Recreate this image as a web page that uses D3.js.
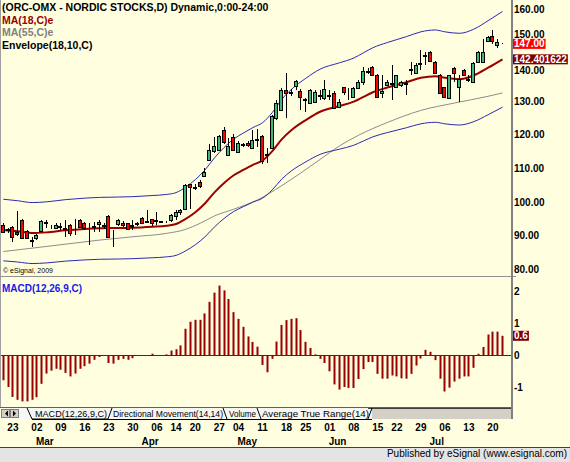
<!DOCTYPE html>
<html>
<head>
<meta charset="utf-8">
<script src="https://cdn.jsdelivr.net/npm/d3@7"></script>
<style>
  body { margin: 0; background: #ffffe0; }
  svg { display: block; font-family: Arial, "Liberation Sans", sans-serif; }
</style>
</head>
<body>
<div id="chart"></div>
<script>
const W = 570, H = 462;

// trading calendar (Stockholm 2009)
const firstDay = new Date(2009, 1, 19), lastDay = new Date(2009, 6, 22);
const holidays = ["2009-04-10", "2009-04-13", "2009-05-01", "2009-05-21", "2009-06-19"];

// daily candles
const opens = [93.1,91.8,92.6,91.0,94.6,91.4,88.4,89.3,91.4,94.1, 92.9,92.3,92.7,92.0,93.1,92.6,94.6,93.8,92.4,92.6,
  93.5,93.0,95.8,91.4,93.3,93.8,93.6,92.8,93.4,95.3, 94.0,94.8,94.3,94.2,94.0,94.6,95.8,96.9,98.0,105.2,
  104.2,105.8,107.8,112.3,115.0,115.5,121.4,114.0,119.4,114.9, 116.8,117.6,116.0,118.3,119.6,113.9,115.9,124.9,127.4,133.3,
  132.4,134.5,133.1,130.2,129.3,129.8,131.6,130.9,131.6,132.5, 128.1,134.1,132.3,131.3,134.0,135.8,138.7,140.2,137.7,132.5,
  134.8,135.0,134.3,134.8,135.0,139.2,138.3,141.0,143.5,144.7, 141.7,137.7,134.1,130.8,139.7,134.3,139.2,136.5,135.7,141.7,
  141.7,148.0,149.4,146.7,147.1];
const highs = [93.8,92.3,92.8,97.4,94.8,91.6,89.6,90.3,94.6,94.6, 93.2,93.6,93.8,94.6,93.3,94.8,94.8,94.0,93.8,94.1,
  94.6,93.6,96.0,91.6,94.8,94.2,93.8,94.6,94.0,95.5, 97.7,95.0,97.0,94.4,94.3,96.3,97.6,97.8,105.3,105.4,
  105.2,106.4,110.0,117.3,119.2,119.8,122.2,119.0,120.2,118.0, 117.6,118.0,121.4,121.6,120.0,115.9,125.8,130.3,134.0,138.4,
  133.5,136.2,133.5,131.0,133.7,133.2,133.3,136.2,133.3,133.0, 130.5,134.3,133.8,134.3,136.2,140.2,139.7,140.4,137.9,137.7,
  136.2,140.7,137.8,136.0,136.3,141.7,141.2,145.2,144.7,145.0, 141.9,137.9,134.3,137.8,140.2,137.7,139.6,137.7,141.5,145.0,
  148.4,149.3,151.1,148.4,147.3];
const lows = [90.6,90.8,88.1,89.8,89.0,88.9,86.6,88.5,90.9,92.2, 92.0,91.8,91.5,89.6,89.7,90.1,92.2,91.5,87.1,91.1,
  91.1,92.0,89.2,86.4,92.8,92.4,91.5,91.6,92.8,93.3, 93.8,92.8,93.1,93.9,93.8,94.1,94.7,96.0,97.6,97.8,
  103.5,104.2,107.3,112.0,114.6,115.2,117.2,113.5,115.0,114.5, 116.2,116.3,115.6,116.2,111.2,111.4,115.6,124.3,127.0,124.8,
  131.4,133.3,127.3,126.8,129.1,129.3,130.3,130.3,130.3,127.8, 127.8,131.8,130.3,130.8,133.5,134.8,138.0,137.5,131.0,130.8,
  134.5,130.3,134.0,134.3,131.8,137.7,138.0,139.2,140.7,141.6, 138.0,132.0,131.0,130.6,135.7,129.8,137.5,135.8,135.5,141.2,
  141.5,147.6,147.1,145.7,147.0];
const closes = [91.1,91.6,89.6,90.4,89.1,89.1,88.7,90.0,94.4,93.8, 92.7,93.1,92.5,92.3,90.6,92.4,92.6,92.1,92.6,92.8,
  94.0,92.7,89.6,91.2,94.6,93.1,91.8,93.2,93.6,93.6, 94.4,93.8,94.6,94.1,94.1,96.0,96.9,97.5,105.0,104.3,
  104.5,104.6,108.8,115.3,116.7,119.5,117.9,116.7,115.4,117.4, 117.2,116.8,118.4,118.6,112.0,114.2,125.5,129.5,133.4,132.5,
  132.8,135.9,131.3,130.6,133.2,132.8,131.9,133.6,131.8,128.0, 129.8,132.8,132.5,133.8,135.8,138.8,138.9,137.7,131.3,133.0,
  135.8,135.5,137.7,135.7,135.3,139.5,140.7,141.4,143.7,141.8, 138.2,132.3,131.3,137.7,138.2,136.4,137.7,136.2,141.2,144.7,
  144.7,149.0,148.0,147.6,147.0];

// moving averages, [bar, value]
const ma18 = [[0,91.6],[3,91.2],[6,90.7],[9,90.9],[13,91.5],[17,91.9],[20,92.1],[24,92.2],[27,92.3],[31,92.6],
  [34,92.9],[36,93.4],[38,94.9],[40,96.9],[42,99.5],[44,102.8],[46,105.6],[48,107.9],[50,109.5],[52,111.0],
  [54,112.3],[56,115.0],[58,118.6],[60,121.3],[63,124.3],[66,126.8],[70,128.5],[73,129.8],[75,131.2],[77,132.6],
  [80,134.0],[84,135.6],[87,136.9],[90,137.4],[92,136.9],[95,136.5],[98,137.6],[101,139.9],[104,142.401622]];
const ma55 = [[0,85.2],[6,86.2],[13,87.4],[20,88.6],[27,89.6],[34,90.6],[38,91.8],[41,93.6],[44,95.8],[48,97.8],
  [53,100.6],[58,104.8],[62,108.6],[66,112.6],[70,116.6],[74,119.8],[80,123.6],[87,127.2],[94,129.4],[101,131.4],[104,132.4]];
const envPct = 10;

// MACD(12,26,9) histogram
const macdHist = [-0.79,-1.0,-1.31,-1.40,-1.45,-1.45,-1.40,-1.32,-0.90,-0.58,-0.49,-0.43,-0.46,-0.56,-0.67,-0.58,-0.43,-0.35,
  -0.27,-0.15,-0.06,-0.01,-0.25,-0.27,-0.15,-0.12,-0.15,-0.10,-0.02,-0.02,0.0,0.04,0,0,0.02,0.14,0.18,0.30,0.82,1.04,1.10,
  1.10,1.30,1.66,1.95,2.17,2.02,1.75,1.34,1.13,0.88,0.58,0.41,0.26,-0.31,-0.54,-0.12,0.42,0.94,1.09,1.13,1.15,0.78,0.41,
  0.22,0.02,-0.12,-0.25,-0.51,-0.92,-1.08,-1.0,-1.03,-1.03,-0.75,-0.44,-0.22,-0.22,-0.59,-0.74,-0.74,-0.64,-0.67,-0.73,
  -0.74,-0.59,-0.33,-0.11,0.16,0.10,-0.16,-0.74,-1.14,-1.02,-0.83,-0.74,-0.67,-0.67,-0.40,0.04,0.25,0.64,0.73,0.73,0.60];

const priceTicks = [80, 90, 100, 110, 120, 130, 140, 150, 160];
const macdTicks = [-1, 0, 1, 2];
const legendRows = [
  {text: "(ORC-OMX - NORDIC STOCKS,D) Dynamic,0:00-24:00", color: "#000"},
  {text: "MA(18,C)e", color: "#990000"},
  {text: "MA(55,C)e", color: "#808080"},
  {text: "Envelope(18,10,C)", color: "#000"}
];
const tabs = ["MACD(12,26,9,C)", "Directional Movement(14,14)", "Volume", "Average True Range(14)"];

const fmtDay = d3.timeFormat("%Y-%m-%d");
const dates = d3.timeDay.range(firstDay, d3.timeDay.offset(lastDay, 1))
  .filter(d => d.getDay() % 6 !== 0 && !holidays.includes(fmtDay(d)));

const svg = d3.select("#chart").append("svg").attr("width", W).attr("height", H);
svg.append("rect").attr("width", W).attr("height", H).attr("fill", "#ffffe0");

const x = d3.scaleBand().domain(d3.range(dates.length)).range([0.9, 504.9]);
const cx = i => x(i) + x.bandwidth() / 2;
const y = d3.scaleLinear().domain([80, 160]).range([269, 0.2]);
const ym = d3.scaleLinear().domain([0, 1]).range([355, 323]);

svg.append("clipPath").attr("id", "clipPrice").append("rect").attr("x", 1).attr("y", 0).attr("width", 510).attr("height", 276);
svg.append("clipPath").attr("id", "clipMacd").append("rect").attr("x", 1).attr("y", 277).attr("width", 510).attr("height", 130);

// ---- price panel
let gPrice = svg.append("g").attr("clip-path", "url(#clipPrice)");

let line = d3.line().x(d => cx(d[0])).y(d => y(d[1])).curve(d3.curveMonotoneX);
let upper = ma18.map(d => [d[0], d[1] * (1 + envPct / 100)]);
let lower = ma18.map(d => [d[0], d[1] * (1 - envPct / 100)]);

gPrice.append("path").datum(ma55).attr("d", line).attr("fill", "none").attr("stroke", "#8c8c8c").attr("stroke-width", 1);
gPrice.append("path").datum(upper).attr("d", line).attr("fill", "none").attr("stroke", "#2a2ab4").attr("stroke-width", 1);
gPrice.append("path").datum(lower).attr("d", line).attr("fill", "none").attr("stroke", "#2a2ab4").attr("stroke-width", 1);
gPrice.append("path").datum(ma18).attr("d", line).attr("fill", "none").attr("stroke", "#990000").attr("stroke-width", 2);

let bars = d3.range(dates.length).map(i => ({i: i, o: opens[i], h: highs[i], l: lows[i], c: closes[i]}));
let candle = gPrice.selectAll("g.candle").data(bars).join("g").attr("class", "candle");
candle.append("line")
  .attr("x1", d => Math.floor(cx(d.i)) + 0.5).attr("x2", d => Math.floor(cx(d.i)) + 0.5)
  .attr("y1", d => Math.round(y(d.h))).attr("y2", d => Math.round(y(d.l)))
  .attr("stroke", "#000").attr("stroke-width", 1);
candle.append("rect")
  .attr("x", d => Math.floor(cx(d.i)) - 1.5)
  .attr("width", 3)
  .attr("y", d => Math.round(y(Math.max(d.o, d.c))) + 0.5)
  .attr("height", d => Math.max(0, Math.round(y(Math.min(d.o, d.c))) - Math.round(y(Math.max(d.o, d.c)))))
  .attr("fill", d => d.c >= d.o ? "#3cb878" : "#ff0000")
  .attr("stroke", "#000").attr("stroke-width", 1);

// legend
svg.append("g").selectAll("text").data(legendRows).join("text")
  .attr("x", 2).attr("y", (d, i) => 11 + i * 12.5)
  .attr("font-size", "10.5px").attr("font-weight", "bold")
  .attr("fill", d => d.color).text(d => d.text);

svg.append("text").attr("x", 3).attr("y", 273).attr("font-size", "7px").attr("fill", "#000")
  .text("\u00a9 eSignal, 2009");

// ---- macd panel
let gMacd = svg.append("g").attr("clip-path", "url(#clipMacd)");
gMacd.append("line").attr("x1", 0).attr("x2", 512).attr("y1", Math.round(ym(0)) + 0.5).attr("y2", Math.round(ym(0)) + 0.5)
  .attr("stroke", "#303030");
gMacd.selectAll("rect.hist").data(macdHist).join("rect").attr("class", "hist")
  .attr("x", (d, i) => Math.floor(cx(i)) - 0.5)
  .attr("width", 2)
  .attr("y", d => Math.min(ym(d), ym(0)))
  .attr("height", d => Math.abs(ym(d) - ym(0)))
  .attr("fill", "#990000");

svg.append("text").attr("x", 2).attr("y", 292).attr("font-size", "10px").attr("font-weight", "bold")
  .attr("fill", "#1818e8").text("MACD(12,26,9,C)");

// panel frame
svg.append("line").attr("x1", 0.5).attr("x2", 0.5).attr("y1", 0).attr("y2", 408).attr("stroke", "#a0a0a0");
svg.append("line").attr("x1", 0).attr("x2", 516).attr("y1", 276.5).attr("y2", 276.5).attr("stroke", "#909090");
svg.append("line").attr("x1", 0).attr("x2", 513).attr("y1", 407.5).attr("y2", 407.5).attr("stroke", "#606060");
svg.append("line").attr("x1", 512).attr("x2", 512).attr("y1", 0).attr("y2", 419).attr("stroke", "#808080").attr("stroke-width", 2);

// ---- right axes
let yAxis = svg.append("g").attr("transform", "translate(512,0)")
  .call(d3.axisRight(y).tickValues(priceTicks).tickFormat(d3.format(".2f")).tickSize(0).tickPadding(2));
yAxis.select(".domain").remove();
yAxis.selectAll("text").attr("font-size", "10px").attr("font-weight", "bold").attr("fill", "#000")
  .attr("font-family", "Arial, 'Liberation Sans', sans-serif");
yAxis.selectAll(".tick").filter(d => d === 160).select("text").attr("dy", "12px");
// 140 sits under the MA box; nudge it just below
yAxis.selectAll(".tick").filter(d => d === 140).select("text").attr("dy", "6.5px");

let mAxis = svg.append("g").attr("transform", "translate(512,0)")
  .call(d3.axisRight(ym).tickValues(macdTicks).tickFormat(d => String(d)).tickSize(0).tickPadding(2));
mAxis.select(".domain").remove();
mAxis.selectAll("text").attr("font-size", "10px").attr("font-weight", "bold").attr("fill", "#000")
  .attr("font-family", "Arial, 'Liberation Sans', sans-serif");

function valueBox(value, label, scale, color) {
  let g = svg.append("g").attr("transform", "translate(513," + scale(value) + ")");
  let t = g.append("text").attr("x", 1).attr("dy", "0.36em").attr("font-size", "10px").attr("font-weight", "bold")
    .attr("fill", "#fff").text(label);
  let w = t.node().getComputedTextLength();
  g.insert("rect", "text").attr("x", 0).attr("y", -5).attr("width", w + 2).attr("height", 10).attr("fill", color);
}
valueBox(closes[closes.length - 1], d3.format(".2f")(closes[closes.length - 1]), y, "#ff0000");
valueBox(ma18[ma18.length - 1][1], String(ma18[ma18.length - 1][1]), y, "#800000");
valueBox(macdHist[macdHist.length - 1], d3.format(".1f")(macdHist[macdHist.length - 1]), ym, "#800000");

// ---- tab row
svg.append("rect").attr("x", 1).attr("y", 408).attr("width", 510).attr("height", 11).attr("fill", "#f6f6f2");
svg.append("rect").attr("x", 372).attr("y", 408).attr("width", 139).attr("height", 11).attr("fill", "#d4d0c8");
svg.append("line").attr("x1", 368).attr("x2", 511).attr("y1", 408.5).attr("y2", 408.5).attr("stroke", "#404040");
[[1, "M8,410.5 L8,416.5 L5,413.5 Z"], [10, "M13,410.5 L13,416.5 L16,413.5 Z"]].forEach(b => {
  svg.append("rect").attr("x", b[0] + 0.5).attr("y", 409.5).attr("width", 8).attr("height", 8)
    .attr("fill", "#d4d0c8").attr("stroke", "#808080");
  svg.append("path").attr("d", b[1]).attr("fill", "#000");
});

let tabSpans = [[27, 110], [110, 226], [226, 259], [259, 372]];
svg.append("path")
  .attr("d", "M27,408 L32,419 L108,419 L112,408 M223,408 L227,419 M257,408 L261,419 M368,419 L372,408 M32,419.5 L372,419.5")
  .attr("fill", "none").attr("stroke", "#000").attr("stroke-width", 1);
svg.append("g").selectAll("text").data(tabs).join("text")
  .attr("x", (d, i) => tabSpans[i][0] + (i === 0 ? 8 : 3))
  .attr("y", 417)
  .attr("font-size", "9px").attr("fill", "#000")
  .attr("textLength", (d, i) => tabSpans[i][1] - tabSpans[i][0] - (i === 0 ? 11 : 6))
  .attr("lengthAdjust", "spacingAndGlyphs")
  .text(d => d);

// ---- date axis
let weekStarts = d3.range(1, dates.length).filter(i => d3.timeMonday.floor(dates[i]) > d3.timeMonday.floor(dates[i - 1]));
let monthStarts = d3.range(1, dates.length).filter(i => dates[i].getMonth() !== dates[i - 1].getMonth());
svg.append("g").selectAll("text").data(weekStarts).join("text")
  .attr("x", i => cx(i)).attr("y", 430.5).attr("text-anchor", "middle")
  .attr("font-size", "10px").attr("font-weight", "bold").attr("fill", "#000")
  .text(i => d3.timeFormat("%d")(dates[i]));
svg.append("g").selectAll("text").data(monthStarts).join("text")
  .attr("x", i => cx(i) - 1).attr("y", 445).attr("text-anchor", "start")
  .attr("font-size", "10px").attr("font-weight", "bold").attr("fill", "#000")
  .text(i => d3.timeFormat("%b")(dates[i]));

// ---- status bar
svg.append("rect").attr("x", 0).attr("y", 448).attr("width", W).attr("height", 14).attr("fill", "#e4e4e4");
svg.append("line").attr("x1", 0).attr("x2", W).attr("y1", 447.5).attr("y2", 447.5).attr("stroke", "#404040");
svg.append("text").attr("x", 567).attr("y", 457).attr("text-anchor", "end").attr("font-size", "10px").attr("fill", "#000")
  .text("Published by eSignal (www.esignal.com)");
</script>
</body>
</html>
